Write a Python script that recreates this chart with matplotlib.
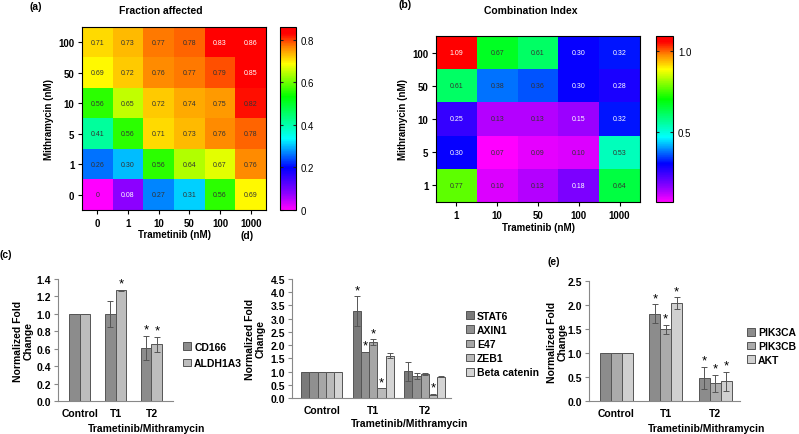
import numpy as np
import matplotlib
matplotlib.use("Agg")
import matplotlib.pyplot as plt
from matplotlib.colors import LinearSegmentedColormap, Normalize
from matplotlib.cm import ScalarMappable

plt.rcParams['font.family'] = ['Liberation Sans', 'DejaVu Sans']

# ---- heatmap data ----
tram_a = ["0", "1", "10", "50", "100", "1000"]
mith_a = ["100", "50", "10", "5", "1", "0"]
fa = [[0.71, 0.73, 0.77, 0.78, 0.83, 0.86],
      [0.69, 0.72, 0.76, 0.77, 0.79, 0.85],
      [0.56, 0.65, 0.72, 0.74, 0.75, 0.82],
      [0.41, 0.56, 0.71, 0.73, 0.76, 0.78],
      [0.26, 0.30, 0.56, 0.64, 0.67, 0.76],
      [0.00, 0.08, 0.27, 0.31, 0.56, 0.69]]

tram_b = ["1", "10", "50", "100", "1000"]
mith_b = ["100", "50", "10", "5", "1"]
ci = [[1.09, 0.67, 0.61, 0.30, 0.32],
      [0.61, 0.38, 0.36, 0.30, 0.28],
      [0.25, 0.13, 0.13, 0.15, 0.32],
      [0.30, 0.07, 0.09, 0.10, 0.53],
      [0.77, 0.10, 0.13, 0.18, 0.64]]

# ---- bar chart data ----
groups = ["Control", "T1", "T2"]

c_genes = ["CD166", "ALDH1A3"]
c_mean = [[1.0, 1.0, 0.61], [1.0, 1.27, 0.65]]
c_err = [[0, 0.15, 0.14], [0, 0.005, 0.09]]
c_sig = [[0, 0, 1], [0, 1, 1]]

d_genes = ["STAT6", "AXIN1", "E47", "ZEB1", "Beta catenin"]
d_mean = [[1.0, 3.28, 1.02], [1.0, 1.74, 0.83], [1.0, 2.12, 0.92],
          [1.0, 0.37, 0.13], [1.0, 1.60, 0.80]]
d_err = [[0, 0.57, 0.36], [0, 0.01, 0.12], [0, 0.10, 0.04],
         [0, 0.01, 0.03], [0, 0.10, 0.02]]
d_sig = [[0, 1, 0], [0, 1, 0], [0, 1, 0], [0, 1, 1], [0, 0, 0]]

e_genes = ["PIK3CA", "PIK3CB", "AKT"]
e_mean = [[1.0, 1.82, 0.48], [1.0, 1.49, 0.37], [1.0, 2.04, 0.41]]
e_err = [[0, 0.20, 0.23], [0, 0.10, 0.18], [0, 0.12, 0.20]]
e_sig = [[0, 1, 1], [0, 1, 1], [0, 1, 1]]

cmap = LinearSegmentedColormap.from_list("rb", [
    (0.0, (1, 0, 1)), (0.09, (0.55, 0, 1)), (0.23, (0, 0, 1)),
    (0.39, (0, 1, 1)), (0.62, (0, 1, 0)), (0.80, (1, 1, 0)),
    (0.895, (1, 0.5, 0)), (0.965, (1, 0, 0)), (1.0, (1, 0, 0))])

fig = plt.figure(figsize=(7.99, 4.35), dpi=100)
W, H = 799, 435


def box(x0, y0, x1, y1):
    return [x0 / W, 1 - y1 / H, (x1 - x0) / W, (y1 - y0) / H]


def heatmap(ax, cax, data, rows, cols, vmin, vmax, cticks, xlab_y):
    data = np.array(data)
    norm = Normalize(vmin, vmax)
    ax.imshow(data, cmap=cmap, norm=norm, aspect='auto')
    for i in range(data.shape[0]):
        for j in range(data.shape[1]):
            v = data[i, j]
            r, g, b, _ = cmap(norm(v))
            lum = 0.299 * r + 0.587 * g + 0.114 * b
            txt = "0" if v == 0 else f"{v:.2f}"
            ax.text(j, i, txt, ha='center', va='center', fontsize=5,
                    color='white' if lum < 0.30 else '#333333')
    ax.set_xticks(range(len(cols)), cols)
    ax.set_yticks(range(len(rows)), rows)
    ax.tick_params(labelsize=7, length=3, width=0.8, pad=2.5)
    for t in ax.get_xticklabels() + ax.get_yticklabels():
        t.set_fontweight('bold')
    for s in ax.spines.values():
        s.set_linewidth(0.8)
    ax.set_xlabel("Trametinib (nM)", fontsize=7, fontweight='bold', va='center')
    ax.xaxis.set_label_coords(0.5, xlab_y)
    ax.set_ylabel("Mithramycin (nM)", fontsize=7, fontweight='bold', labelpad=3)
    cb = fig.colorbar(ScalarMappable(norm=norm, cmap=cmap), cax=cax)
    cb.set_ticks(cticks)
    cb.ax.tick_params(direction='in', length=2.5, width=0.8, labelsize=7,
                      left=True, right=True, color='#222222')
    cb.outline.set_linewidth(0.8)


ax_a = fig.add_axes(box(82, 28, 266, 211))
cax_a = fig.add_axes(box(280, 28, 296, 211))
heatmap(ax_a, cax_a, fa, mith_a, tram_a, 0, 0.86, [0, 0.2, 0.4, 0.6, 0.8],
        (211 - 235) / 183)
cax_a.set_yticklabels(["0", "0.2", "0.4", "0.6", "0.8"])

ax_b = fig.add_axes(box(436, 37, 640, 203))
cax_b = fig.add_axes(box(656, 37, 673, 203))
heatmap(ax_b, cax_b, ci, mith_b, tram_b, 0.07, 1.09, [0.5, 1.0],
        (203 - 228) / 166)

fig.text(161 / W, 1 - 11 / H, "Fraction affected", ha='center', va='center',
         fontsize=7.5, fontweight='bold')
fig.text(531 / W, 1 - 11 / H, "Combination Index", ha='center', va='center',
         fontsize=7.5, fontweight='bold')


def bars(ax, genes, means, errs, sigs, colors, width, xlim, ylim, yticks,
         leg_xy, leg_space, xlab_xy, ylab_x):
    x = np.arange(len(groups))
    n = len(genes)
    for k in range(n):
        xs = x + (k - (n - 1) / 2) * width
        ax.bar(xs, means[k], width, color=colors[k], edgecolor='#555555',
               linewidth=0.7, label=genes[k], yerr=errs[k],
               error_kw=dict(ecolor='#555555', elinewidth=0.7, capsize=2,
                             capthick=0.7))
        for xi, m, e, s in zip(xs, means[k], errs[k], sigs[k]):
            if s:
                ax.text(xi, m + e, "*", ha='center', va='bottom', fontsize=9.5)
    ax.set_xlim(*xlim)
    ax.set_ylim(*ylim)
    ax.set_yticks(yticks, [f"{t:.1f}" for t in yticks])
    ax.set_xticks(x, groups)
    ax.tick_params(axis='y', labelsize=7.5, length=3, width=0.8, color='#888888', pad=2)
    ax.tick_params(axis='x', labelsize=7.5, length=0, pad=5)
    for t in ax.get_xticklabels() + ax.get_yticklabels():
        t.set_fontweight('bold')
    for s in ['top', 'right']:
        ax.spines[s].set_visible(False)
    for s in ['left', 'bottom']:
        ax.spines[s].set_color('#888888')
        ax.spines[s].set_linewidth(0.8)
    ax.set_xlabel("Trametinib/Mithramycin", fontsize=7.5, fontweight='bold', va='center')
    ax.xaxis.set_label_coords(*xlab_xy)
    ax.set_ylabel("Normalized Fold\nChange", fontsize=7.5, fontweight='bold',
                  va='center', linespacing=1.0)
    ax.yaxis.set_label_coords(ylab_x, 0.5)
    ax.legend(loc='center left', bbox_to_anchor=leg_xy, bbox_transform=fig.transFigure,
              frameon=False, borderpad=0, handlelength=0.75, handleheight=0.75,
              handletextpad=0.3, labelspacing=leg_space,
              prop={'size': 7.5, 'weight': 'bold'})


ax_c = fig.add_axes(box(58, 280, 173, 402))
bars(ax_c, c_genes, c_mean, c_err, c_sig, ['#8c8c8c', '#bdbdbd'], 0.3,
     (-0.6, 2.6), (0, 1.4), np.arange(0, 1.41, 0.2),
     (178 / W, 1 - 356 / H), 0.6, (0.77, -0.22), -0.30)

ax_d = fig.add_axes(box(292, 280, 451, 399))
bars(ax_d, d_genes, d_mean, d_err, d_sig,
     ['#7a7a7a', '#909090', '#a6a6a6', '#bababa', '#d4d4d4'], 0.16,
     (-0.58, 2.51), (0, 4.5), np.arange(0, 4.51, 0.5),
     (461 / W, 1 - 345 / H), 0.4, (0.74, -0.21), -0.23)

ax_e = fig.add_axes(box(589, 282, 740, 402))
bars(ax_e, e_genes, e_mean, e_err, e_sig, ['#8c8c8c', '#ababab', '#d0d0d0'], 0.22,
     (-0.55, 2.5), (0, 2.5), np.arange(0, 2.51, 0.5),
     (742 / W, 1 - 347 / H), 0.35, (0.78, -0.225), -0.21)

for lab, x, y in [("(a)", 36, 7), ("(b)", 405, 5), ("(c)", 6, 255),
                  ("(d)", 247, 236), ("(e)", 554, 262)]:
    fig.text(x / W, 1 - y / H, lab, ha='center', va='center', fontsize=7.5,
             fontweight='bold')

fig.savefig("out.png", dpi=100)
